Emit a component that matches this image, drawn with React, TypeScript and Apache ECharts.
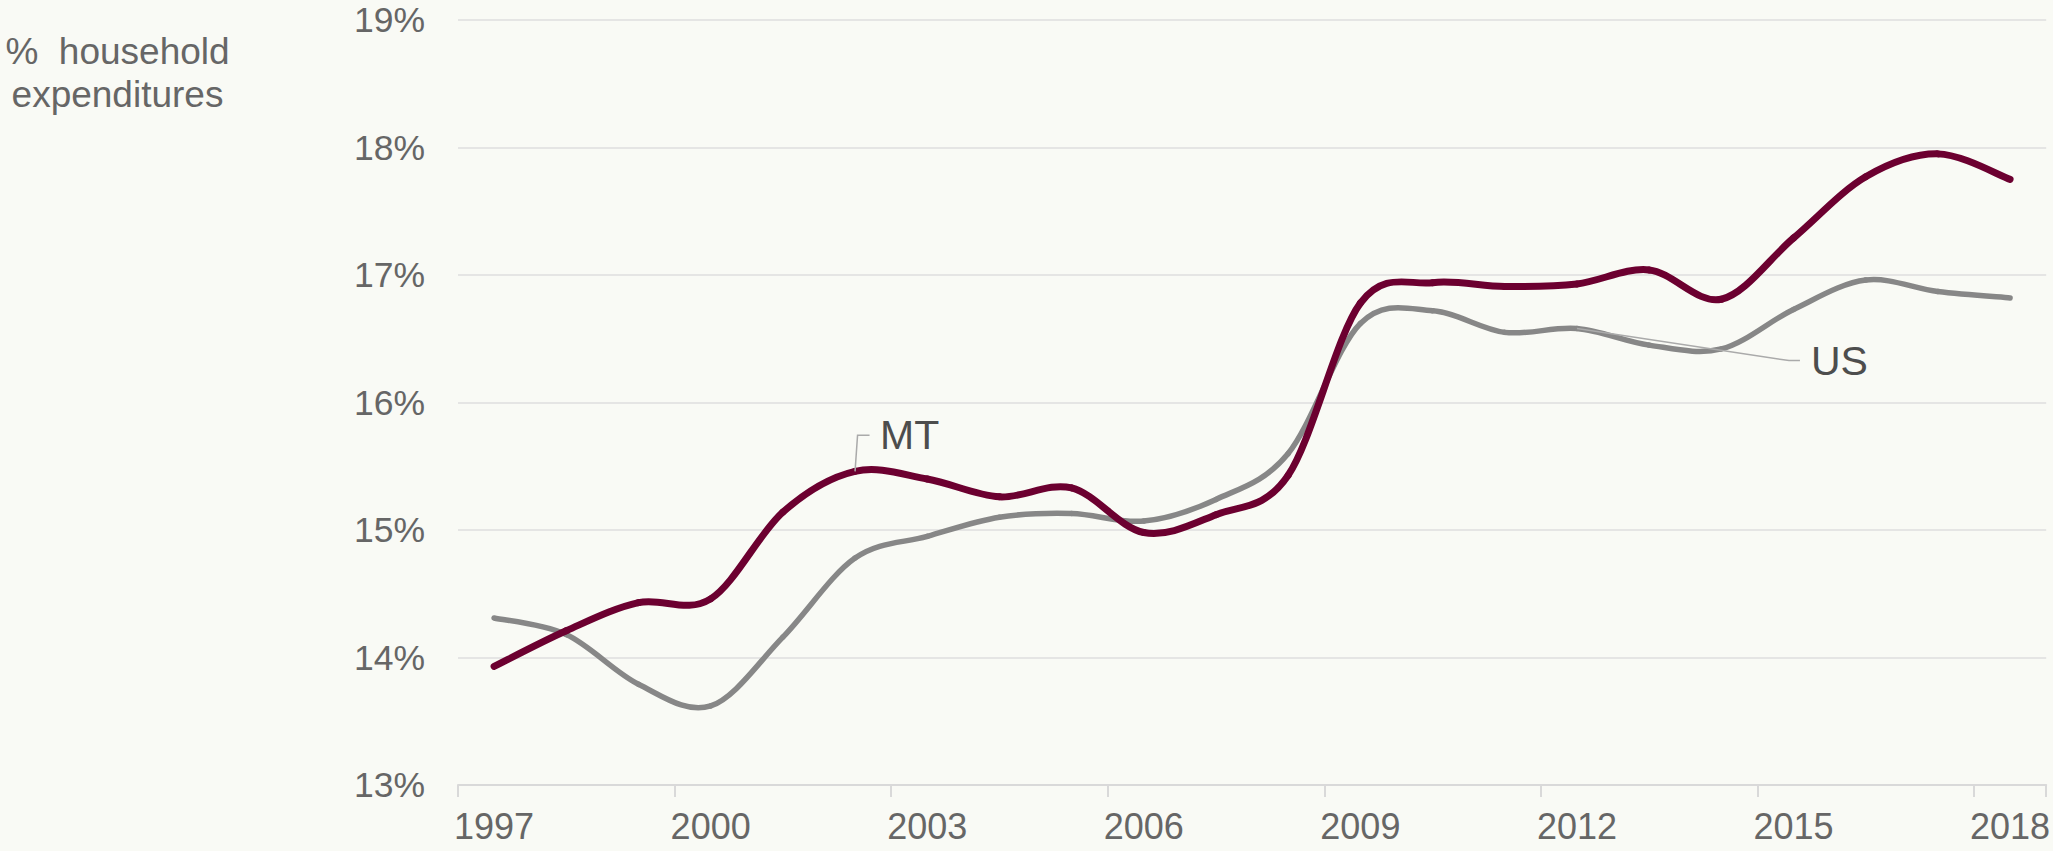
import React, { useEffect, useRef } from "react";
import * as echarts from "echarts";

const years = ["1997","1998","1999","2000","2001","2002","2003","2004","2005","2006","2007","2008","2009","2010","2011","2012","2013","2014","2015","2016","2017","2018"];
const mtValues = [13.93, 14.21, 14.43, 14.46, 15.14, 15.46, 15.40, 15.26, 15.33, 14.98, 15.12, 15.43, 16.78, 16.94, 16.91, 16.93, 17.04, 16.81, 17.29, 17.77, 17.95, 17.75];
const usValues = [14.31, 14.18, 13.79, 13.62, 14.16, 14.78, 14.95, 15.10, 15.13, 15.07, 15.24, 15.60, 16.62, 16.72, 16.55, 16.58, 16.45, 16.42, 16.73, 16.96, 16.87, 16.82];
const yTicks = { min: 13, max: 19, step: 1 };
const titleText = "%  household\nexpenditures";
const mtLabelYear = "2002";
const usLabelYear = "2012";

const FONT = "'Liberation Sans', Arial, sans-serif";

function smoothSeries(name: string, values: number[], color: string, width: number, z: number) {
  const n = values.length;
  return {
    name,
    type: "custom",
    data: values.map((v, i) => [i, v]),
    encode: { x: 0, y: 1 },
    z,
    renderItem: (params: any, api: any) => {
      const i = params.dataIndex;
      if (i >= n - 1) return null;
      const pt = (k: number) => {
        const kk = Math.max(0, Math.min(n - 1, k));
        return api.coord([kk, values[kk]]);
      };
      const p0 = pt(i - 1);
      const p1 = pt(i);
      const p2 = pt(i + 1);
      const p3 = pt(i + 2);
      const t = 1 / 6;
      return {
        type: "bezierCurve",
        shape: {
          x1: p1[0], y1: p1[1],
          x2: p2[0], y2: p2[1],
          cpx1: p1[0] + (p2[0] - p0[0]) * t,
          cpy1: p1[1] + (p2[1] - p0[1]) * t,
          cpx2: p2[0] - (p3[0] - p1[0]) * t,
          cpy2: p2[1] - (p3[1] - p1[1]) * t,
        },
        style: { stroke: color, lineWidth: width, fill: null, lineCap: "round" },
      };
    },
  };
}

export default function App() {
  const ref = useRef<HTMLDivElement>(null);
  useEffect(() => {
    document.body.style.margin = "0";
    document.body.style.background = "#f9faf5";
    const chart = echarts.init(ref.current as HTMLDivElement, null, { renderer: "svg" });
    chart.setOption({
      animation: false,
      backgroundColor: "#f9faf5",
      textStyle: { fontFamily: FONT },
      grid: { left: 458, right: 1, top: 20, bottom: 66 },
      xAxis: {
        type: "category",
        data: years,
        boundaryGap: true,
        axisLine: { lineStyle: { color: "#d9d9d9", width: 2 } },
        axisTick: { show: true, interval: 2, length: 12, lineStyle: { color: "#d9d9d9", width: 2 } },
        axisLabel: { interval: 2, color: "#666666", fontSize: 36, margin: 23, fontFamily: FONT },
      },
      yAxis: {
        type: "value",
        min: yTicks.min,
        max: yTicks.max,
        interval: yTicks.step,
        axisLabel: { formatter: "{value}%", color: "#666666", fontSize: 35.5, margin: 33, fontFamily: FONT },
        splitLine: { lineStyle: { color: "#dedede", width: 1.5 } },
        axisLine: { show: false },
        axisTick: { show: false },
      },
      series: [
        smoothSeries("US", usValues, "#878787", 5.5, 2),
        smoothSeries("MT", mtValues, "#6c0030", 7, 3),
      ],
    });

    const mtIdx = years.indexOf(mtLabelYear);
    const usIdx = years.indexOf(usLabelYear);
    const p1 = chart.convertToPixel({ gridIndex: 0 }, [mtIdx, mtValues[mtIdx]]) as number[];
    const p2 = chart.convertToPixel({ gridIndex: 0 }, [usIdx, usValues[usIdx]]) as number[];

    chart.setOption({
      graphic: [
        {
          type: "text",
          x: 117.5,
          y: 30,
          style: {
            text: titleText,
            textAlign: "center",
            textVerticalAlign: "top",
            fontSize: 37,
            lineHeight: 43,
            fill: "#666666",
            fontFamily: FONT,
          },
        },
        {
          type: "polyline",
          shape: { points: [[p1[0], p1[1]], [p1[0] + 2.5, p1[1] - 36], [p1[0] + 14.5, p1[1] - 36]] },
          style: { stroke: "#aaaaaa", lineWidth: 1.5, fill: "none" },
          z: 10,
        },
        {
          type: "text",
          x: p1[0] + 25,
          y: p1[1] - 36,
          style: { text: "MT", fontSize: 41, fill: "#4d4d4d", textVerticalAlign: "middle", fontFamily: FONT },
          z: 10,
        },
        {
          type: "polyline",
          shape: { points: [[p2[0], p2[1]], [p2[0] + 212, p2[1] + 32], [p2[0] + 223, p2[1] + 32]] },
          style: { stroke: "#aaaaaa", lineWidth: 1.5, fill: "none" },
          z: 10,
        },
        {
          type: "text",
          x: p2[0] + 234,
          y: p2[1] + 32,
          style: { text: "US", fontSize: 41, fill: "#4d4d4d", textVerticalAlign: "middle", fontFamily: FONT },
          z: 10,
        },
      ],
    });
    return () => chart.dispose();
  }, []);
  return <div ref={ref} style={{ width: 2053, height: 851 }} />;
}
